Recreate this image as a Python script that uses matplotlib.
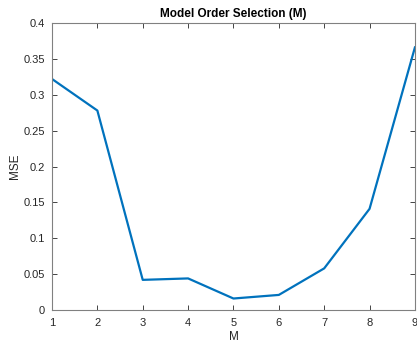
import matplotlib
matplotlib.use("Agg")
import matplotlib.pyplot as plt

M = [1, 2, 3, 4, 5, 6, 7, 8, 9]
mse = [0.322, 0.278, 0.042, 0.044, 0.016, 0.021, 0.058, 0.141, 0.366]
yticks = [0, 0.05, 0.1, 0.15, 0.2, 0.25, 0.3, 0.35, 0.4]
ytick_labels = ["0", "0.05", "0.1", "0.15", "0.2", "0.25", "0.3", "0.35", "0.4"]

plt.rcParams["font.family"] = ["Liberation Sans", "DejaVu Sans"]

fig = plt.figure(figsize=(4.17, 3.42), dpi=100)
ax = fig.add_axes([0.1247, 0.0936, 0.8703, 0.8391])

ax.plot(M, mse, color="#0072BD", linewidth=1.6)

ax.set_xlim(1, 9)
ax.set_ylim(0, 0.4)
ax.set_xticks(M)
ax.set_yticks(yticks)
ax.set_yticklabels(ytick_labels)

axis_color = "#262626"
for s in ax.spines.values():
    s.set_color("#808080")
    s.set_linewidth(0.8)
ax.tick_params(direction="in", top=True, right=True, length=3.5, width=0.6,
               color=axis_color, labelcolor=axis_color, labelsize=8)
ax.tick_params(axis="x", pad=6)
ax.tick_params(axis="y", pad=5)

ax.set_xlabel("M", fontsize=8.5, color=axis_color, labelpad=2)
ax.set_ylabel("MSE", fontsize=8.5, color=axis_color, labelpad=1.5)
ax.set_title("Model Order Selection (M)", fontsize=8.5, fontweight="bold",
             color="black", pad=4.5)

fig.savefig("out.png", dpi=100)
